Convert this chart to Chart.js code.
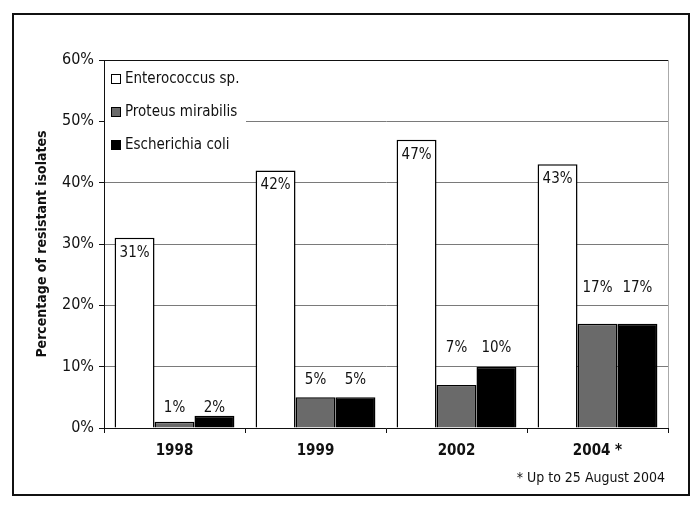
<!DOCTYPE html>
<html>
<head>
<meta charset="utf-8">
<script src="https://cdn.jsdelivr.net/npm/chart.js@4"></script>
<style>
  body { margin: 0; background: #fff; }
  canvas { display: block; }
</style>
</head>
<body>
<canvas id="myChart" width="700" height="509"></canvas>
<script>
const YEARS = ['1998', '1999', '2002', '2004 *'];
const SERIES_NAMES = ['Enterococcus sp.', 'Proteus mirabilis', 'Escherichia coli'];
const ENTEROCOCCUS = [31, 42, 47, 43];
const PROTEUS = [1, 5, 7, 17];
const ECOLI = [2, 5, 10, 17];
const Y_TICKS = [0, 10, 20, 30, 40, 50, 60];
const FOOTNOTE = '* Up to 25 August 2004';

const FONT = '"Liberation Sans Narrow", "DejaVu Sans Condensed", Arial, sans-serif';
const COLORS = ['#ffffff', '#6a6a6a', '#000000'];
// gap (px) between the small bars and the middle of their labels, per year group
const LABEL_GAP = [8, 17, 19, 36];

const framePlugin = {
    id: 'frame',
    beforeDraw(chart) {
        const ctx = chart.ctx;
        ctx.save();
        ctx.fillStyle = '#fff';
        ctx.fillRect(0, 0, chart.width, chart.height);
        ctx.strokeStyle = '#111';
        ctx.lineWidth = 2;
        ctx.strokeRect(13, 14, 676, 481);
        ctx.restore();
    },
    afterDraw(chart) {
        const ctx = chart.ctx;
        const area = chart.chartArea;
        ctx.save();
        // right edge of plot area
        ctx.strokeStyle = '#aaa';
        ctx.lineWidth = 1;
        ctx.beginPath();
        ctx.moveTo(area.right + 0.5, area.top);
        ctx.lineTo(area.right + 0.5, area.bottom);
        ctx.stroke();
        // top edge
        ctx.strokeStyle = '#111';
        ctx.beginPath();
        ctx.moveTo(area.left, area.top + 0.5);
        ctx.lineTo(area.right, area.top + 0.5);
        ctx.stroke();
        // footnote
        ctx.fillStyle = '#111';
        ctx.font = '14px ' + FONT;
        ctx.textAlign = 'right';
        ctx.textBaseline = 'middle';
        ctx.fillText(FOOTNOTE, area.right - 3, 478);
        ctx.restore();
    }
};

const legendPlugin = {
    id: 'boxLegend',
    afterDatasetsDraw(chart) {
        const ctx = chart.ctx;
        const area = chart.chartArea;
        ctx.save();
        ctx.fillStyle = '#fff';
        ctx.fillRect(area.left + 1, area.top + 2, 141, 98);
        ctx.font = '15px ' + FONT;
        ctx.textBaseline = 'middle';
        chart.data.datasets.forEach((ds, i) => {
            const y = area.top + 19 + i * 33;
            ctx.fillStyle = ds.backgroundColor;
            ctx.fillRect(area.left + 7, y - 5, 10, 10);
            ctx.strokeStyle = '#000';
            ctx.lineWidth = 1;
            ctx.strokeRect(area.left + 7.5, y - 4.5, 9, 9);
            ctx.fillStyle = '#111';
            ctx.fillText(ds.label, area.left + 21, y);
        });
        ctx.restore();
    }
};

const valueLabelPlugin = {
    id: 'valueLabels',
    afterDatasetsDraw(chart) {
        const ctx = chart.ctx;
        ctx.save();
        ctx.font = '15px ' + FONT;
        ctx.fillStyle = '#111';
        ctx.textAlign = 'center';
        ctx.textBaseline = 'middle';
        const metas = [0, 1, 2].map((i) => chart.getDatasetMeta(i));
        YEARS.forEach((year, j) => {
            const big = metas[0].data[j];
            ctx.fillText(ENTEROCOCCUS[j] + '%', big.x, big.y + 15);
            const top = Math.min(metas[1].data[j].y, metas[2].data[j].y);
            const y = top - LABEL_GAP[j];
            ctx.fillText(PROTEUS[j] + '%', metas[1].data[j].x, y);
            ctx.fillText(ECOLI[j] + '%', metas[2].data[j].x, y);
        });
        ctx.restore();
    }
};

const chartData = {
    labels: YEARS,
    datasets: [ENTEROCOCCUS, PROTEUS, ECOLI].map((values, i) => ({
        label: SERIES_NAMES[i],
        data: values,
        backgroundColor: COLORS[i],
        borderColor: '#000',
        borderWidth: 1.5,
        borderSkipped: 'bottom',
        categoryPercentage: 0.85,
        barPercentage: 1.0,
    })),
};

const config = {
    type: 'bar',
    data: chartData,
    options: {
        responsive: false,
        animation: false,
        layout: { padding: { left: 30, top: 60, right: 32, bottom: 0 } },
        plugins: {
            legend: { display: false },
            tooltip: { enabled: false },
        },
        scales: {
            x: {
                grid: { drawOnChartArea: false, drawTicks: true, tickLength: 5, color: '#111' },
                border: { display: true, color: '#111', width: 1 },
                ticks: {
                    color: '#111',
                    padding: 9,
                    font: { family: FONT, size: 15, weight: 'bold' },
                },
                afterFit: (scale) => { scale.height = 81; },
            },
            y: {
                min: 0,
                max: 60,
                afterBuildTicks: (scale) => { scale.ticks = Y_TICKS.map((v) => ({ value: v })); },
                grid: { color: '#7a7a7a', tickLength: 5, tickColor: '#111' },
                border: { display: true, color: '#111', width: 1 },
                ticks: {
                    color: '#111',
                    padding: 5,
                    font: { family: FONT, size: 16 },
                    callback: (v) => v + '%',
                },
                title: {
                    display: true,
                    text: 'Percentage of resistant isolates',
                    color: '#111',
                    padding: { top: 4, bottom: 0 },
                    font: { family: FONT, size: 14, weight: 'bold' },
                },
                afterFit: (scale) => { scale.width = 74; },
            },
        },
    },
    plugins: [framePlugin, legendPlugin, valueLabelPlugin],
};

const myChart = new Chart(document.querySelector('#myChart'), config);
</script>
</body>
</html>
